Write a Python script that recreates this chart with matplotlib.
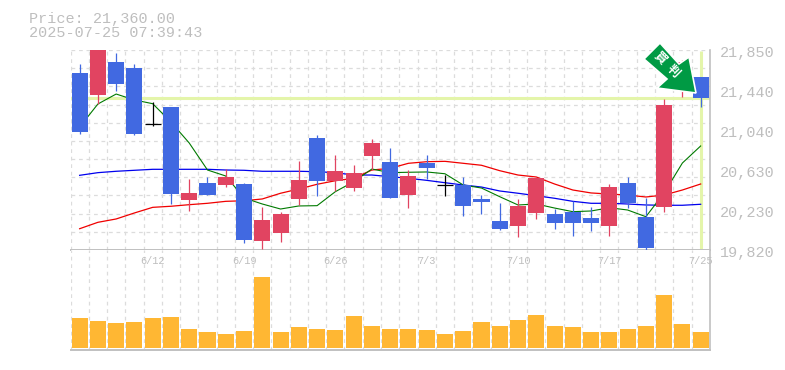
import numpy as np
import matplotlib
matplotlib.use("Agg")
import matplotlib.pyplot as plt
from matplotlib.patches import Polygon

plt.rcParams['font.family'] = ['Liberation Mono', 'Noto Sans CJK JP', 'DejaVu Sans']

W, H = 785, 370

# daily prices, one entry per trading day
opens = [21617, 21393, 21728, 21667, 21096, 21271, 20328, 20500, 20480, 20490, 19911, 19993,
         20338, 20957, 20520, 20449, 20774, 20713, 20378, 20703, 20477, 20480, 20338, 20114,
         20064, 20196, 20185, 20206, 20145, 20064, 20500, 20155, 20256, 21546, 21576]
highs = [21708, 21880, 21820, 21708, 21322, 21271, 20541, 20561, 20642, 20500, 20256, 20206,
         20723, 20987, 20784, 20683, 20947, 20855, 20632, 20784, 20581, 20561, 20378, 20297,
         20338, 20561, 20236, 20317, 20256, 20490, 20561, 20348, 21353, 21749, 21576]
lows = [20997, 21302, 21434, 20987, 21079, 20287, 20216, 20378, 20459, 19891, 19830, 19901,
        20277, 20368, 20419, 20419, 20632, 20348, 20246, 20541, 20368, 20165, 20185, 20023,
        19952, 20135, 20033, 19962, 20013, 19962, 20246, 19810, 20206, 21373, 21271]
closes = [21018, 21850, 21505, 20997, 21096, 20388, 20399, 20378, 20561, 19922, 20125, 20185,
          20531, 20520, 20622, 20602, 20906, 20348, 20571, 20652, 20477, 20267, 20307, 20033,
          20267, 20551, 20094, 20094, 20094, 20459, 20297, 19840, 21292, 21728, 21360]

ma_short = [21068, 21302, 21403, 21343, 21305, 21119, 20906, 20632, 20571, 20348, 20287, 20236,
            20267, 20270, 20412, 20513, 20642, 20605, 20609, 20612, 20594, 20480, 20449, 20361,
            20277, 20287, 20246, 20209, 20216, 20249, 20226, 20158, 20399, 20703, 20876]
ma_mid = [20036, 20101, 20135, 20196, 20253, 20264, 20280, 20294, 20314, 20320, 20338, 20396,
          20439, 20487, 20523, 20548, 20632, 20649, 20700, 20716, 20720, 20700, 20680, 20625,
          20581, 20561, 20490, 20429, 20399, 20388, 20378, 20358, 20378, 20429, 20490]
ma_long = [20578, 20605, 20619, 20629, 20639, 20639, 20639, 20639, 20632, 20629, 20619, 20619,
           20619, 20615, 20605, 20581, 20581, 20564, 20548, 20527, 20503, 20480, 20459, 20419,
           20396, 20371, 20345, 20314, 20294, 20294, 20287, 20277, 20274, 20274, 20284]

volumes = [30, 27, 25, 26, 30, 31, 19, 16, 14, 17, 71, 16, 21, 19, 18, 32, 22, 19,
           19, 18, 14, 17, 26, 22, 28, 33, 22, 21, 16, 16, 19, 22, 53, 24, 16]

price_ticks = [21850, 21440, 21040, 20630, 20230, 19820]
date_pos = [4, 9, 14, 19, 24, 29, 34]
date_labels = ['6/12', '6/19', '6/26', '7/3', '7/10', '7/17', '7/25']
last_price = 21360.00
stamp = '2025-07-25 07:39:43'

GREY = '#bebebe'
GRID = '#dcdcdc'
BLUE = '#4169e1'
RED = '#e14461'
ORANGE = '#ffb733'
LIME = '#e4f5aa'


def main():
	fig = plt.figure(figsize=(W / 100, H / 100), dpi=100)
	left, right = 70.5 / W, 709.8 / W
	ax = fig.add_axes([left, 1 - 250 / H, right - left, 200 / H])
	vax = fig.add_axes([left, 1 - 350 / H, right - left, 100 / H])

	n = len(closes)
	x = np.arange(n)

	for a in (ax, vax):
		a.set_xlim(-0.5, n - 0.5)
		a.set_xticks(x - 0.5)
		a.tick_params(length=0, labelbottom=False, labelleft=False)
		a.grid(True, axis='x', color=GRID, ls=(0, (3, 3)), lw=0.9)
		a.set_axisbelow(True)
		for s in a.spines.values():
			s.set_visible(False)
		a.spines['right'].set_visible(True)
		a.spines['bottom'].set_visible(True)
		a.spines['right'].set_color('#c0c0c0')
		a.spines['bottom'].set_color('#c0c0c0')
		a.spines['right'].set_linewidth(1.2)
		a.spines['bottom'].set_linewidth(1.4)

	ax.set_ylim(19820, 21850)
	# 11 horizontal grid steps between the two limits
	ax.set_yticks(np.linspace(19820, 21850, 12))
	ax.grid(True, axis='y', color=GRID, ls=(0, (3, 3)), lw=0.9)

	ax.axhline(last_price, color=LIME, lw=2.2, zorder=1.5)
	ax.plot([x[-1], x[-1]], [19830, 21840], color=LIME, lw=2.2, zorder=1.5, solid_capstyle='butt')

	ax.plot(x, ma_long, color='#0000ee', lw=0.9, zorder=2)
	ax.plot(x, ma_mid, color='#f00000', lw=0.9, zorder=2)
	ax.plot(x, ma_short, color='#007a00', lw=0.8, zorder=2)

	for i in x:
		o, h, l, c = opens[i], highs[i], lows[i], closes[i]
		if c > o:
			col = RED
		elif c < o:
			col = BLUE
		else:
			col = 'black'
		ax.plot([i, i], [l, h], color=col, lw=0.9, zorder=3, solid_capstyle='butt')
		if c == o:
			ax.plot([i - 0.44, i + 0.44], [c, c], color=col, lw=0.9, zorder=3, solid_capstyle='butt')
		else:
			ax.bar(i, abs(c - o), bottom=min(o, c), width=0.88, color=col, lw=0, zorder=3)

	for i, label in zip(date_pos, date_labels):
		vax.text(i, 0.885, label, transform=vax.get_xaxis_transform(), ha='center', va='center',
			fontsize=7.4, color=GREY, zorder=5, clip_on=False)

	vax.bar(x, volumes, width=0.88, color=ORANGE, lw=0, zorder=3)
	vax.set_ylim(-2, 98)
	vax.set_yticks([])

	# price labels sit a little below their level, right of the frame
	for p in price_ticks:
		ax.annotate('{:,}'.format(p), xy=(720 / W, p), xycoords=('figure fraction', 'data'),
			xytext=(0, -2.2), textcoords='offset points', fontsize=10.9, color=GREY,
			ha='left', va='center', annotation_clip=False)

	fig.text(29 / W, 1 - 18.5 / H, 'Price: {:,.2f}'.format(last_price), fontsize=10.9, color=GREY, ha='left', va='center')
	fig.text(29 / W, 1 - 33 / H, stamp, fontsize=10.9, color=GREY, ha='left', va='center')

	# arrow pointing at the last candle
	pts = [(660, 43), (679, 64), (689, 57), (696, 93), (657, 88), (667, 79), (644, 59)]
	pix = [(px / W, 1 - py / H) for px, py in pts]
	fig.add_artist(Polygon(pix, closed=True, transform=fig.transFigure, fc='#009a44', ec='white', lw=1.2, zorder=6))
	fig.text(660 / W, 1 - 58 / H, '\u8cb7', fontsize=8.8, color='white', ha='center', va='center',
		rotation=-45, fontweight='bold', zorder=7)
	fig.text(673 / W, 1 - 71 / H, '\u5224', fontsize=8.8, color='white', ha='center', va='center',
		rotation=-45, fontweight='bold', zorder=7)

	fig.savefig('out.png', dpi=100)


if __name__ == '__main__':
	main()
